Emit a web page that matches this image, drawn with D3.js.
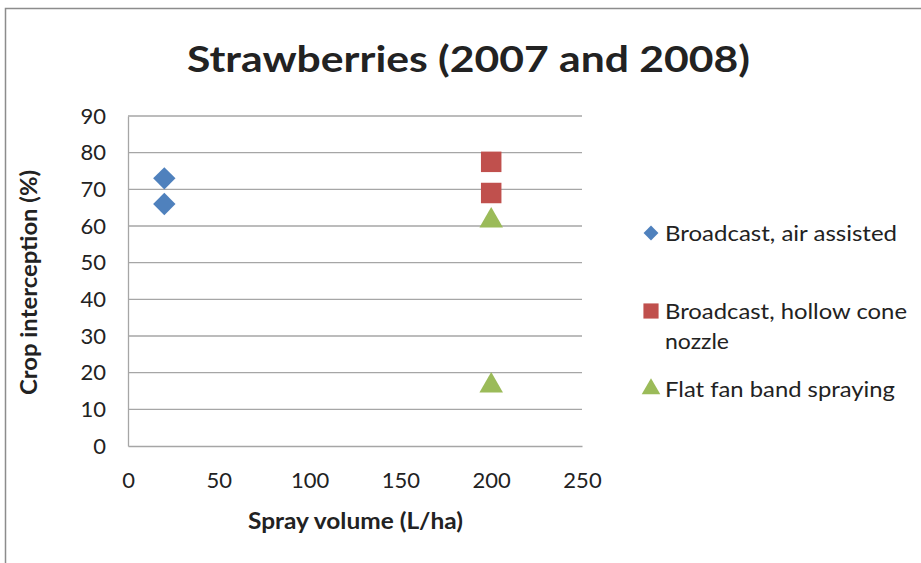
<!DOCTYPE html>
<html>
<head>
<meta charset="utf-8">
<script src="https://cdn.jsdelivr.net/npm/d3@7"></script>
<style>
  html, body { margin: 0; padding: 0; background: #fff; }
  svg { display: block; }
  text { font-family: Lato, "Open Sans", sans-serif; fill: #222; }
</style>
</head>
<body>
<svg id="chart" width="921" height="563"></svg>
<script>
// Series: spray volume (L/ha) vs crop interception (%)
const airAssistedX = [20, 20];
const airAssistedY = [73, 66];
const hollowConeX = [200, 200];
const hollowConeY = [77.5, 69];
const flatFanX = [200, 200];
const flatFanY = [62, 17];

const xTicks = [0, 50, 100, 150, 200, 250];
const yTicks = [0, 10, 20, 30, 40, 50, 60, 70, 80, 90];

const seriesNames = ["Broadcast, air assisted", "Broadcast, hollow cone nozzle", "Flat fan band spraying"];
const seriesColors = ["#4F81BD", "#C0504D", "#9BBB59"];

const svg = d3.select("#chart");

// Chart frame
svg.append("rect")
  .attr("x", 5.5).attr("y", 8.5)
  .attr("width", 930).attr("height", 570)
  .attr("fill", "none").attr("stroke", "#8c8c8c").attr("stroke-width", 1.5);

const plot = { left: 128, right: 582, top: 116, bottom: 446 };

const x = d3.scaleLinear().domain([0, 250]).range([plot.left, plot.right]);
const y = d3.scaleLinear().domain([0, 90]).range([plot.bottom, plot.top]);

// Horizontal gridlines
svg.append("g")
  .selectAll("line")
  .data(yTicks.filter(d => d > 0))
  .join("line")
  .attr("x1", plot.left).attr("x2", plot.right)
  .attr("y1", d => y(d)).attr("y2", d => y(d))
  .attr("stroke", "#a6a6a6").attr("stroke-width", 1.3);

// Y axis
const yAxis = svg.append("g")
  .attr("transform", `translate(${plot.left},0)`)
  .call(d3.axisLeft(y).tickValues(yTicks).tickSize(0).tickPadding(22));
yAxis.select(".domain").attr("stroke", "#a6a6a6").attr("stroke-width", 1.3);
yAxis.selectAll("text").style("font-size", "22px").attr("fill", "#222")
  .style("font-family", "Lato, sans-serif");

// X axis
const xAxis = svg.append("g")
  .attr("transform", `translate(0,${plot.bottom})`)
  .call(d3.axisBottom(x).tickValues(xTicks).tickSize(0).tickPadding(26));
xAxis.select(".domain").attr("stroke", "#a6a6a6").attr("stroke-width", 1.3);
xAxis.selectAll("text").style("font-size", "22px").attr("fill", "#222")
  .style("font-family", "Lato, sans-serif");

// Markers
const diamond = d3.symbol().type(d3.symbolSquare).size(250);
const square = d3.symbol().type(d3.symbolSquare).size(420);
const triangle = d3.symbol().type(d3.symbolTriangle).size(240);

const pts = (xs, ys) => xs.map((v, i) => ({ x: v, y: ys[i] }));

svg.append("g").selectAll("path")
  .data(pts(airAssistedX, airAssistedY))
  .join("path")
  .attr("d", diamond)
  .attr("transform", d => `translate(${x(d.x)},${y(d.y)}) rotate(45)`)
  .attr("fill", seriesColors[0]);

svg.append("g").selectAll("path")
  .data(pts(hollowConeX, hollowConeY))
  .join("path")
  .attr("d", square)
  .attr("transform", d => `translate(${x(d.x)},${y(d.y)})`)
  .attr("fill", seriesColors[1]);

svg.append("g").selectAll("path")
  .data(pts(flatFanX, flatFanY))
  .join("path")
  .attr("d", triangle)
  .attr("transform", d => `translate(${x(d.x)},${y(d.y) + 2})`)
  .attr("fill", seriesColors[2]);

// Title
svg.append("text")
  .attr("x", 187).attr("y", 72)
  .attr("textLength", 563).attr("lengthAdjust", "spacingAndGlyphs")
  .style("font-size", "36px").style("font-weight", "bold")
  .attr("fill", "#000")
  .text("Strawberries (2007 and 2008)");

// Axis titles
svg.append("text")
  .attr("x", 248).attr("y", 529)
  .attr("textLength", 215).attr("lengthAdjust", "spacingAndGlyphs")
  .style("font-size", "22px").style("font-weight", "bold")
  .attr("fill", "#000")
  .text("Spray volume (L/ha)");

svg.append("text")
  .attr("transform", "translate(37,395) rotate(-90)")
  .attr("textLength", 225).attr("lengthAdjust", "spacingAndGlyphs")
  .style("font-size", "22px").style("font-weight", "bold")
  .attr("fill", "#000")
  .text("Crop interception (%)");

// Legend
const legend = svg.append("g");
const legendY = [233, 311, 389];
const legendSym = [
  d3.symbol().type(d3.symbolSquare).size(110),
  d3.symbol().type(d3.symbolSquare).size(230),
  d3.symbol().type(d3.symbolTriangle).size(150)
];
seriesNames.forEach((name, i) => {
  legend.append("path")
    .attr("d", legendSym[i])
    .attr("transform", `translate(651,${legendY[i]})` + (i === 0 ? " rotate(45)" : ""))
    .attr("fill", seriesColors[i]);
});
const legendText = (label, yPos, len) => legend.append("text")
  .attr("x", 665).attr("y", yPos)
  .attr("textLength", len).attr("lengthAdjust", "spacingAndGlyphs")
  .style("font-size", "22px").text(label);
legendText("Broadcast, air assisted", legendY[0] + 8, 232);
legendText("Broadcast, hollow cone", legendY[1] + 8, 242);
legendText("nozzle", legendY[1] + 38, 64);
legendText("Flat fan band spraying", legendY[2] + 8, 230);
</script>
</body>
</html>
